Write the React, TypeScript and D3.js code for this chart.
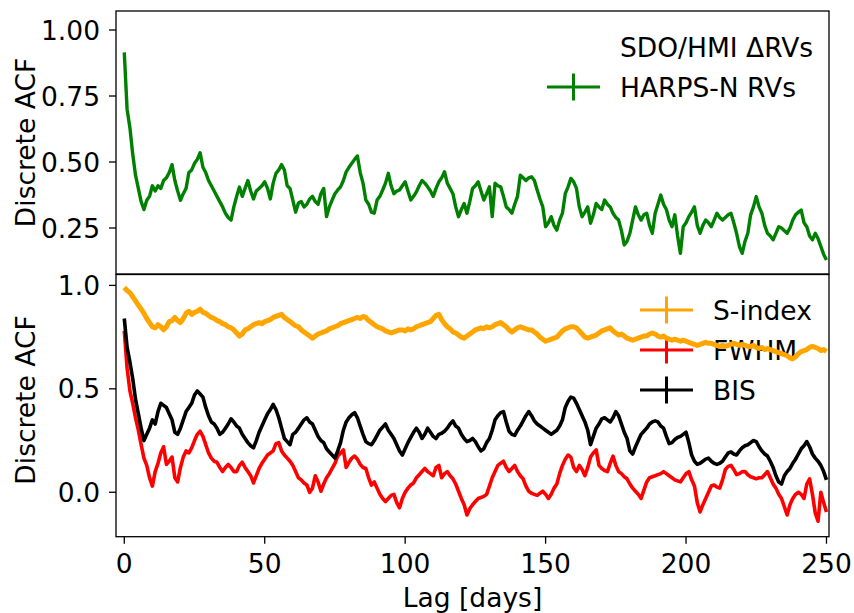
import React from "react";
import * as d3 from "d3";

// Lag in days (one value per day, 0..250)
const lags: number[] = d3.range(0, 251);

// Top panel: HARPS-N RVs discrete ACF
const harpsRV: number[] = [
  0.915, 0.70, 0.63, 0.53, 0.45, 0.40, 0.35, 0.32, 0.355, 0.37,
  0.41, 0.39, 0.41, 0.40, 0.43, 0.44, 0.46, 0.49, 0.43, 0.39,
  0.355, 0.38, 0.40, 0.46, 0.47, 0.495, 0.51, 0.535, 0.48, 0.46,
  0.43, 0.41, 0.39, 0.37, 0.35, 0.33, 0.306, 0.29, 0.28, 0.33,
  0.37, 0.405, 0.37, 0.40, 0.43, 0.39, 0.36, 0.39, 0.40, 0.41,
  0.425, 0.40, 0.36, 0.42, 0.457, 0.47, 0.49, 0.47, 0.41, 0.40,
  0.356, 0.31, 0.345, 0.35, 0.33, 0.34, 0.36, 0.37, 0.35, 0.34,
  0.38, 0.40, 0.293, 0.33, 0.356, 0.38, 0.394, 0.406, 0.43, 0.463,
  0.48, 0.495, 0.51, 0.523, 0.46, 0.42, 0.356, 0.34, 0.31, 0.306,
  0.356, 0.37, 0.394, 0.42, 0.457, 0.41, 0.38, 0.39, 0.394, 0.41,
  0.425, 0.39, 0.356, 0.37, 0.387, 0.41, 0.43, 0.42, 0.406, 0.39,
  0.37, 0.40, 0.425, 0.44, 0.463, 0.42, 0.40, 0.38, 0.33, 0.293,
  0.32, 0.343, 0.306, 0.35, 0.40, 0.41, 0.425, 0.39, 0.356, 0.38,
  0.406, 0.293, 0.42, 0.41, 0.406, 0.37, 0.33, 0.32, 0.306, 0.34,
  0.37, 0.45, 0.44, 0.43, 0.44, 0.444, 0.43, 0.394, 0.36, 0.33,
  0.255, 0.27, 0.293, 0.26, 0.242, 0.28, 0.306, 0.38, 0.406, 0.438,
  0.425, 0.40, 0.33, 0.293, 0.31, 0.33, 0.268, 0.30, 0.343, 0.33,
  0.32, 0.356, 0.34, 0.33, 0.306, 0.29, 0.28, 0.24, 0.186, 0.20,
  0.23, 0.28, 0.33, 0.30, 0.28, 0.30, 0.306, 0.26, 0.23, 0.306,
  0.34, 0.375, 0.34, 0.32, 0.28, 0.255, 0.30, 0.22, 0.154, 0.255,
  0.27, 0.293, 0.31, 0.33, 0.26, 0.23, 0.26, 0.28, 0.27, 0.255,
  0.28, 0.306, 0.29, 0.28, 0.29, 0.30, 0.306, 0.27, 0.23, 0.18,
  0.154, 0.20, 0.23, 0.30, 0.33, 0.369, 0.33, 0.306, 0.26, 0.23,
  0.22, 0.205, 0.23, 0.255, 0.25, 0.24, 0.23, 0.25, 0.28, 0.30,
  0.31, 0.318, 0.27, 0.255, 0.22, 0.205, 0.23, 0.21, 0.18, 0.15,
  0.129,
];

// Bottom panel: S-index
const sIndex: number[] = [
  0.99, 0.975, 0.965, 0.945, 0.925, 0.905, 0.885, 0.865, 0.84, 0.82,
  0.80, 0.795, 0.81, 0.80, 0.785, 0.80, 0.825, 0.83, 0.845, 0.83,
  0.82, 0.84, 0.865, 0.875, 0.86, 0.87, 0.875, 0.885, 0.87, 0.865,
  0.855, 0.845, 0.84, 0.83, 0.825, 0.815, 0.81, 0.80, 0.795, 0.785,
  0.77, 0.755, 0.765, 0.785, 0.79, 0.80, 0.81, 0.815, 0.82, 0.815,
  0.825, 0.83, 0.835, 0.845, 0.85, 0.855, 0.86, 0.845, 0.835, 0.825,
  0.815, 0.805, 0.80, 0.785, 0.775, 0.765, 0.755, 0.745, 0.755, 0.765,
  0.77, 0.775, 0.78, 0.79, 0.795, 0.80, 0.805, 0.815, 0.82, 0.825,
  0.83, 0.835, 0.84, 0.845, 0.84, 0.85, 0.845, 0.83, 0.82, 0.81,
  0.80, 0.795, 0.79, 0.78, 0.775, 0.77, 0.775, 0.78, 0.785, 0.785,
  0.78, 0.79, 0.785, 0.79, 0.80, 0.805, 0.81, 0.815, 0.82, 0.825,
  0.84, 0.855, 0.86, 0.835, 0.815, 0.80, 0.79, 0.775, 0.77, 0.76,
  0.75, 0.745, 0.755, 0.765, 0.775, 0.785, 0.79, 0.795, 0.79, 0.80,
  0.795, 0.80, 0.81, 0.815, 0.82, 0.81, 0.80, 0.785, 0.775, 0.785,
  0.795, 0.80, 0.795, 0.79, 0.785, 0.785, 0.775, 0.765, 0.75, 0.74,
  0.73, 0.735, 0.74, 0.745, 0.75, 0.765, 0.78, 0.79, 0.795, 0.80,
  0.80, 0.795, 0.78, 0.765, 0.75, 0.745, 0.75, 0.755, 0.76, 0.77,
  0.78, 0.785, 0.79, 0.795, 0.78, 0.77, 0.76, 0.765, 0.755, 0.745,
  0.74, 0.735, 0.74, 0.745, 0.75, 0.755, 0.755, 0.765, 0.77, 0.765,
  0.755, 0.75, 0.755, 0.745, 0.74, 0.735, 0.74, 0.735, 0.73, 0.735,
  0.73, 0.725, 0.72, 0.715, 0.71, 0.715, 0.72, 0.725, 0.72, 0.72,
  0.715, 0.71, 0.705, 0.71, 0.705, 0.71, 0.715, 0.72, 0.715, 0.71,
  0.715, 0.71, 0.705, 0.705, 0.71, 0.70, 0.695, 0.70, 0.69, 0.695,
  0.69, 0.685, 0.68, 0.675, 0.67, 0.665, 0.66, 0.65, 0.645, 0.655,
  0.67, 0.68, 0.685, 0.69, 0.70, 0.705, 0.70, 0.695, 0.685, 0.69,
  0.68,
];

// Bottom panel: FWHM
const fwhm: number[] = [
  0.78, 0.60, 0.49, 0.43, 0.36, 0.30, 0.23, 0.165, 0.13, 0.07,
  0.03, 0.10, 0.14, 0.19, 0.22, 0.135, 0.15, 0.17, 0.07, 0.05,
  0.12, 0.17, 0.20, 0.19, 0.215, 0.25, 0.28, 0.295, 0.27, 0.23,
  0.19, 0.165, 0.15, 0.145, 0.12, 0.10, 0.12, 0.135, 0.12, 0.10,
  0.10, 0.13, 0.145, 0.12, 0.10, 0.08, 0.045, 0.08, 0.115, 0.14,
  0.16, 0.18, 0.19, 0.20, 0.235, 0.24, 0.20, 0.18, 0.165, 0.15,
  0.13, 0.10, 0.07, 0.06, 0.045, 0.035, 0.00, 0.02, 0.08, 0.05,
  0.005, 0.04, 0.07, 0.09, 0.115, 0.14, 0.175, 0.19, 0.205, 0.12,
  0.145, 0.165, 0.175, 0.16, 0.135, 0.12, 0.115, 0.07, 0.035, 0.05,
  0.02, -0.01, -0.03, -0.045, -0.03, -0.015, -0.01, -0.05, -0.075, -0.03,
  0.00, 0.02, 0.035, 0.045, 0.07, 0.085, 0.10, 0.115, 0.10, 0.09,
  0.08, 0.12, 0.13, 0.07, 0.09, 0.10, 0.08, 0.065, 0.04, 0.005,
  -0.03, -0.06, -0.11, -0.08, -0.06, -0.045, -0.03, -0.025, -0.02, -0.01,
  0.03, 0.07, 0.10, 0.13, 0.14, 0.15, 0.12, 0.10, 0.115, 0.13,
  0.10, 0.08, 0.065, 0.03, 0.005, -0.005, -0.01, -0.015, -0.005, 0.005,
  -0.01, -0.03, -0.01, 0.02, 0.04, 0.09, 0.13, 0.16, 0.18, 0.17,
  0.12, 0.10, 0.13, 0.11, 0.08, 0.12, 0.17, 0.19, 0.205, 0.13,
  0.115, 0.105, 0.10, 0.14, 0.175, 0.13, 0.10, 0.09, 0.075, 0.065,
  0.04, 0.02, 0.005, -0.01, -0.03, 0.01, 0.05, 0.07, 0.075, 0.08,
  0.085, 0.09, 0.10, 0.09, 0.08, 0.07, 0.06, 0.055, 0.05, 0.07,
  0.09, 0.10, 0.06, 0.03, -0.05, -0.095, -0.06, -0.03, 0.00, 0.03,
  0.035, 0.025, 0.02, 0.06, 0.11, 0.125, 0.13, 0.11, 0.085, 0.09,
  0.10, 0.10, 0.085, 0.075, 0.07, 0.065, 0.07, 0.07, 0.085, 0.10,
  0.07, 0.04, 0.02, -0.01, -0.03, -0.07, -0.11, -0.06, -0.03, -0.01,
  0.00, -0.01, -0.03, 0.04, 0.065, -0.01, -0.10, -0.14, 0.00, -0.05,
  -0.095,
];

// Bottom panel: BIS
const bis: number[] = [
  0.84, 0.70, 0.63, 0.55, 0.45, 0.38, 0.31, 0.25, 0.28, 0.31,
  0.35, 0.33, 0.39, 0.43, 0.42, 0.41, 0.38, 0.35, 0.29, 0.28,
  0.31, 0.35, 0.39, 0.41, 0.43, 0.47, 0.49, 0.475, 0.46, 0.41,
  0.37, 0.34, 0.33, 0.31, 0.28, 0.29, 0.31, 0.33, 0.355, 0.34,
  0.32, 0.31, 0.28, 0.26, 0.24, 0.225, 0.215, 0.25, 0.29, 0.32,
  0.35, 0.38, 0.40, 0.425, 0.40, 0.36, 0.31, 0.26, 0.245, 0.23,
  0.28, 0.29, 0.31, 0.33, 0.35, 0.36, 0.34, 0.33, 0.30, 0.27,
  0.25, 0.24, 0.21, 0.195, 0.18, 0.165, 0.20, 0.24, 0.30, 0.34,
  0.36, 0.375, 0.385, 0.36, 0.32, 0.28, 0.245, 0.235, 0.23, 0.25,
  0.275, 0.30, 0.315, 0.33, 0.30, 0.28, 0.26, 0.23, 0.20, 0.18,
  0.21, 0.24, 0.265, 0.29, 0.31, 0.29, 0.26, 0.28, 0.31, 0.29,
  0.27, 0.26, 0.28, 0.285, 0.295, 0.31, 0.33, 0.345, 0.32, 0.31,
  0.28, 0.26, 0.245, 0.25, 0.26, 0.245, 0.22, 0.20, 0.21, 0.24,
  0.26, 0.30, 0.35, 0.37, 0.385, 0.39, 0.34, 0.295, 0.28, 0.275,
  0.30, 0.32, 0.345, 0.37, 0.39, 0.37, 0.345, 0.33, 0.32, 0.31,
  0.30, 0.29, 0.28, 0.29, 0.30, 0.32, 0.35, 0.41, 0.44, 0.46,
  0.455, 0.43, 0.40, 0.37, 0.34, 0.30, 0.23, 0.27, 0.31, 0.33,
  0.355, 0.36, 0.35, 0.34, 0.36, 0.39, 0.37, 0.33, 0.29, 0.26,
  0.20, 0.185, 0.22, 0.25, 0.28, 0.295, 0.31, 0.33, 0.34, 0.345,
  0.34, 0.32, 0.31, 0.27, 0.235, 0.24, 0.255, 0.265, 0.27, 0.28,
  0.29, 0.24, 0.18, 0.15, 0.135, 0.14, 0.15, 0.16, 0.165, 0.15,
  0.14, 0.135, 0.14, 0.15, 0.17, 0.19, 0.195, 0.185, 0.18, 0.20,
  0.215, 0.225, 0.23, 0.24, 0.25, 0.245, 0.22, 0.20, 0.185, 0.175,
  0.15, 0.12, 0.08, 0.05, 0.04, 0.08, 0.10, 0.115, 0.14, 0.16,
  0.185, 0.21, 0.225, 0.245, 0.22, 0.185, 0.165, 0.15, 0.13, 0.10,
  0.06,
];

const xTicks: number[] = [0, 50, 100, 150, 200, 250];
const topYTicks: number[] = [0.25, 0.5, 0.75, 1.0];
const bottomYTicks: number[] = [0.0, 0.5, 1.0];

const topLegend = [
  { label: "SDO/HMI ΔRVs", color: "none" },
  { label: "HARPS-N RVs", color: "#008000" },
];
const bottomLegend = [
  { label: "S-index", color: "#FFA500" },
  { label: "FWHM", color: "#FF0000" },
  { label: "BIS", color: "#000000" },
];

const FONT = "'DejaVu Sans', sans-serif";
const FS = 26.5;

const W = 854;
const H = 613;
const L = 116;
const R = 829;
const T1 = 11;
const B1 = 274;
const T2 = 274.5;
const B2 = 536.7;

const x = d3.scaleLinear().domain([-2.95, 250.9]).range([L, R]);
const yTop = d3.scaleLinear().domain([1.072, 0.0758]).range([T1, B1]);
const yBot = d3.scaleLinear().domain([1.0527, -0.2148]).range([T2, B2]);

function pathFor(vals: number[], y: d3.ScaleLinear<number, number>) {
  const gen = d3
    .line<number>()
    .x((_, i) => x(lags[i]))
    .y((v) => y(v));
  return gen(vals) || "";
}

function LegendEntry({ xc, yl, color, label }: { xc: number; yl: number; color: string; label: string }) {
  return (
    <g>
      {color !== "none" && (
        <g stroke={color} strokeWidth={3}>
          <line x1={xc - 26.5} x2={xc + 26.5} y1={yl} y2={yl} />
          <line x1={xc} x2={xc} y1={yl - 13.5} y2={yl + 13.5} />
        </g>
      )}
      <text x={xc + 46.5} y={yl + 9.5} fontSize={FS} fontFamily={FONT} fill="#000">
        {label}
      </text>
    </g>
  );
}

export default function App() {
  const clipTop = "clipTop";
  const clipBot = "clipBot";
  return (
    <svg width={W} height={H} style={{ position: "absolute", left: 0, top: 0, background: "#fff" }}>
      <defs>
        <clipPath id={clipTop}>
          <rect x={L} y={T1} width={R - L} height={B1 - T1} />
        </clipPath>
        <clipPath id={clipBot}>
          <rect x={L} y={T2} width={R - L} height={B2 - T2} />
        </clipPath>
      </defs>
      <rect x={0} y={0} width={W} height={H} fill="#fff" />

      {/* Top panel */}
      <g clipPath={`url(#${clipTop})`}>
        <path d={pathFor(harpsRV, yTop)} fill="none" stroke="#008000" strokeWidth={3.4} strokeLinejoin="round" />
      </g>
      {topLegend.map((e, i) => (
        <LegendEntry key={e.label} xc={573.5} yl={47 + i * 40} color={e.color} label={e.label} />
      ))}
      <rect x={L} y={T1} width={R - L} height={B1 - T1} fill="none" stroke="#000" strokeWidth={1.3} />
      {topYTicks.map((t) => (
        <g key={"ty" + t}>
          <line x1={L - 7} x2={L} y1={yTop(t)} y2={yTop(t)} stroke="#000" strokeWidth={1.3} />
          <text x={L - 16} y={yTop(t)} dy="0.36em" textAnchor="end" fontSize={FS} fontFamily={FONT}>
            {t.toFixed(2)}
          </text>
        </g>
      ))}
      <text
        transform={`translate(35,142.5) rotate(-90)`}
        textAnchor="middle"
        fontSize={FS}
        fontFamily={FONT}
      >
        Discrete ACF
      </text>

      {/* Bottom panel */}
      {bottomLegend.map((e, i) => (
        <LegendEntry key={e.label} xc={666.5} yl={310 + i * 40} color={e.color} label={e.label} />
      ))}
      <g clipPath={`url(#${clipBot})`}>
        <path d={pathFor(sIndex, yBot)} fill="none" stroke="#FFA500" strokeWidth={5} strokeLinejoin="round" />
        <path d={pathFor(fwhm, yBot)} fill="none" stroke="#FF0000" strokeWidth={3.6} strokeLinejoin="round" />
        <path d={pathFor(bis, yBot)} fill="none" stroke="#000000" strokeWidth={3.6} strokeLinejoin="round" />
      </g>
      <rect x={L} y={T2} width={R - L} height={B2 - T2} fill="none" stroke="#000" strokeWidth={1.3} />
      {bottomYTicks.map((t) => (
        <g key={"by" + t}>
          <line x1={L - 7} x2={L} y1={yBot(t)} y2={yBot(t)} stroke="#000" strokeWidth={1.3} />
          <text x={L - 16} y={yBot(t)} dy="0.36em" textAnchor="end" fontSize={FS} fontFamily={FONT}>
            {t.toFixed(1)}
          </text>
        </g>
      ))}
      <text
        transform={`translate(35,400) rotate(-90)`}
        textAnchor="middle"
        fontSize={FS}
        fontFamily={FONT}
      >
        Discrete ACF
      </text>

      {xTicks.map((t) => (
        <g key={"x" + t}>
          <line x1={x(t)} x2={x(t)} y1={B2} y2={B2 + 7} stroke="#000" strokeWidth={1.3} />
          <text x={x(t)} y={573.3} textAnchor="middle" fontSize={FS} fontFamily={FONT}>
            {t}
          </text>
        </g>
      ))}
      <text x={(L + R) / 2} y={606.5} textAnchor="middle" fontSize={FS} fontFamily={FONT}>
        Lag [days]
      </text>
    </svg>
  );
}
